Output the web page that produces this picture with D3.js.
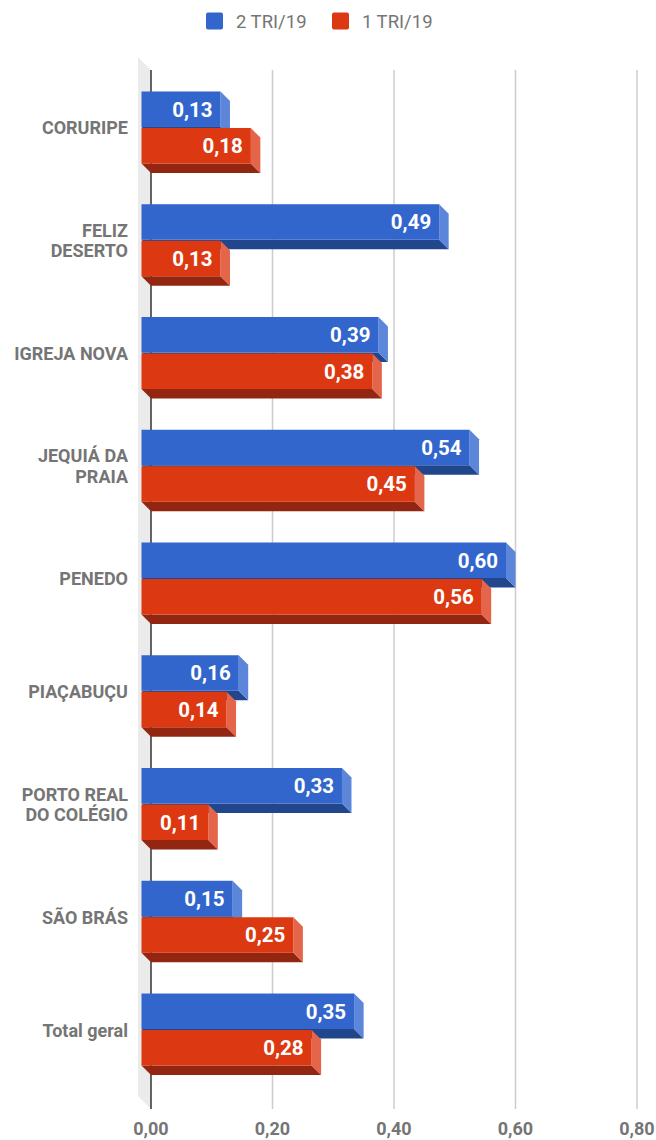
<!DOCTYPE html>
<html>
<head>
<meta charset="utf-8">
<script src="https://cdn.jsdelivr.net/npm/d3@7"></script>
<style>
  body { margin: 0; background: #fff; }
  text { font-family: Roboto, "Noto Sans", sans-serif; }
</style>
</head>
<body>
<svg id="chart" width="656" height="1140"></svg>
<script>
// --- data ---
var categories = ["CORURIPE", "FELIZ\nDESERTO", "IGREJA NOVA", "JEQUIÁ DA\nPRAIA", "PENEDO",
                  "PIAÇABUÇU", "PORTO REAL\nDO COLÉGIO", "SÃO BRÁS", "Total geral"];
var seriesNames = ["2 TRI/19", "1 TRI/19"];
var tri2 = [0.13, 0.49, 0.39, 0.54, 0.60, 0.16, 0.33, 0.15, 0.35];
var tri1 = [0.18, 0.13, 0.38, 0.45, 0.56, 0.14, 0.11, 0.25, 0.28];
var xTicks = [0, 0.2, 0.4, 0.6, 0.8];

var colors = {
    front: ["#3366cc", "#dc3912"],
    side:  ["#5b86da", "#e5654a"],
    bottom:["#22468c", "#932610"]
};

var svg = d3.select("#chart");
var fmt = function(v) { return v.toFixed(2).replace(".", ","); };

// back plane (gridlines) and wall offset
var backTop = 70, backBottom = 1109;
var wallD = 13;      // depth of left wall
var barD = 9.5;      // depth of each bar

var x = d3.scaleLinear().domain([0, 0.8]).range([151, 637]);

var y = d3.scaleBand().domain(categories).range([70.6, 1085.4]).padding(0);
// group of two bars centred in each band
var barH = 35.5, gap = 1;

// --- left wall ---
svg.append("path")
    .attr("d", "M" + (x(0) - wallD) + "," + (backTop - wallD) +
               "L" + x(0) + "," + backTop +
               "L" + x(0) + "," + backBottom +
               "L" + (x(0) - wallD) + "," + (backBottom - wallD) + "Z")
    .attr("fill", "#ebebeb");

// --- gridlines ---
svg.append("g").selectAll("line")
    .data(xTicks.slice(1))
    .enter().append("line")
    .attr("x1", d => x(d)).attr("x2", d => x(d))
    .attr("y1", backTop).attr("y2", backBottom)
    .attr("stroke", "#cccccc").attr("stroke-width", 1.5);

// baseline axis
svg.append("line")
    .attr("x1", x(0)).attr("x2", x(0))
    .attr("y1", backTop).attr("y2", backBottom)
    .attr("stroke", "#333").attr("stroke-width", 1.5);

// --- tick labels ---
svg.append("g").selectAll("text")
    .data(xTicks)
    .enter().append("text")
    .attr("x", d => x(d)).attr("y", 1135)
    .attr("text-anchor", "middle")
    .attr("font-size", 18).attr("font-weight", "bold")
    .attr("fill", "#757575")
    .text(fmt);

// --- bars ---
function drawBar(g, v, top, si) {
    var x0 = x(0) - barD, x1 = x(v) - barD;
    var y0 = top, y1 = top + barH;
    // bottom face
    g.append("path")
        .attr("d", "M" + x0 + "," + y1 + "L" + x1 + "," + y1 + "L" + (x1 + barD) + "," + (y1 + barD) +
                   "L" + (x0 + barD) + "," + (y1 + barD) + "Z")
        .attr("fill", colors.bottom[si]);
    // side face
    g.append("path")
        .attr("d", "M" + x1 + "," + y0 + "L" + (x1 + barD) + "," + (y0 + barD) + "L" + (x1 + barD) + "," + (y1 + barD) +
                   "L" + x1 + "," + y1 + "Z")
        .attr("fill", colors.side[si]);
    // front face
    g.append("rect")
        .attr("x", x0).attr("y", y0).attr("width", x1 - x0).attr("height", barH)
        .attr("fill", colors.front[si]);
    g.append("text")
        .attr("x", x1 - 8).attr("y", y0 + barH / 2)
        .attr("dy", "0.36em")
        .attr("text-anchor", "end")
        .attr("font-size", 20.5).attr("font-weight", "bold")
        .attr("fill", "#fff")
        .text(fmt(v));
}

var bars = svg.append("g");
categories.forEach(function(c, i) {
    var mid = y(c) + y.bandwidth() / 2;
    var g = bars.append("g");
    drawBar(g, tri2[i], mid - barH, 0);
    drawBar(g, tri1[i], mid + gap, 1);
});

// --- category labels ---
var labels = svg.append("g");
categories.forEach(function(c) {
    var lines = c.split("\n");
    var mid = y(c) + y.bandwidth() / 2 + 1;
    var lh = 20.5;
    var t = labels.append("text")
        .attr("text-anchor", "end")
        .attr("font-size", 18).attr("font-weight", "bold")
        .attr("fill", "#757575");
    lines.forEach(function(l, k) {
        t.append("tspan")
            .attr("x", 128)
            .attr("y", mid + (k - (lines.length - 1) / 2) * lh)
            .attr("dy", "0.36em")
            .text(l);
    });
});

// --- legend ---
var legendX = [206, 332];
var legend = svg.append("g");
seriesNames.forEach(function(s, i) {
    legend.append("rect")
        .attr("x", legendX[i]).attr("y", 12.5).attr("width", 17).attr("height", 17)
        .attr("rx", 2).attr("fill", colors.front[i]);
    legend.append("text")
        .attr("x", legendX[i] + 30).attr("y", 21)
        .attr("dy", "0.36em")
        .attr("font-size", 18.5)
        .attr("fill", "#757575")
        .text(s);
});
</script>
</body>
</html>
